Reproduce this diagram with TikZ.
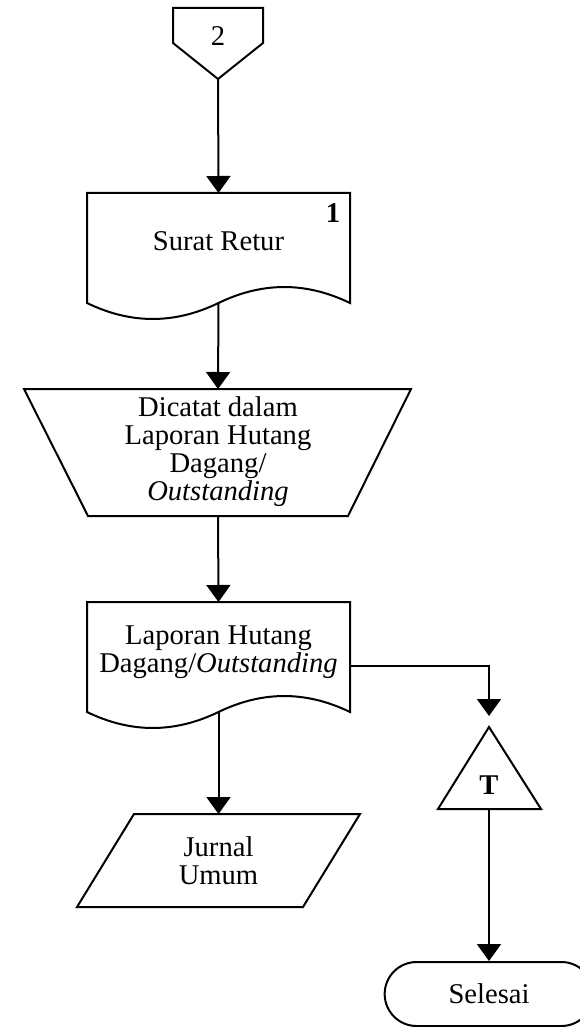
\documentclass[tikz,border=0pt]{standalone}
\usepackage{fontspec}
\setmainfont{Liberation Serif}
\usetikzlibrary{arrows.meta,calc,shapes.misc}

\tikzset{
  shp/.style={draw,line width=1pt,line join=miter},
  txt/.style={align=center,font=\fontsize{14.3}{14}\selectfont},
  arr/.style={line width=1pt,-{Triangle[width=12pt,length=8.5pt]}},
}

% document symbol, #1,#2 = top centre
\newcommand{\docshape}[2]{%
  \draw[shp] (#1-131.5,#2) -- (#1+131.5,#2) -- (#1+131.5,#2+110)
    .. controls (#1+87.5,#2+88.7) and (#1+44,#2+88.7) .. (#1,#2+110)
    .. controls (#1-44,#2+131.3) and (#1-87.5,#2+131.3) .. (#1-131.5,#2+110) -- cycle;}

\begin{document}
\begin{tikzpicture}[x=0.5pt,y=-0.5pt]
    \useasboundingbox (0,0) rectangle (579,1027);

    \coordinate (p2tip) at (218,79);
    \coordinate (srtop) at (218.5,193);
    \coordinate (srw) at (218.5,303);
    \coordinate (dctop) at (218,389);
    \coordinate (dcbot) at (218,516);
    \coordinate (lhtop) at (218.5,602);
    \coordinate (lhw) at (218.5,712);
    \coordinate (lhr) at (350,666);
    \coordinate (jutop) at (218.5,814);
    \coordinate (ttop) at (489,727);
    \coordinate (tbot) at (489,809);

    % off-page connector
    \draw[shp] (173,8) -- (263,8) -- (263,43) -- (p2tip) -- (173,43) -- cycle;
    \node (P2) [txt] at (218,36) {2};

    % surat retur
    \docshape{218.5}{193}
    \node (SR) [txt] at (218.5,241) {Surat Retur};
    \node (N1) [txt,font=\fontsize{14.3}{14}\selectfont\bfseries] at (333,213) {1};

    % manual operation
    \draw[shp] (24,389) -- (411,389) -- (348,516) -- (88,516) -- cycle;
    \node (DC) [txt] at (218,452) {Dicatat dalam\\Laporan Hutang\\Dagang/\\\textit{Outstanding}};

    % laporan hutang dagang
    \docshape{218.5}{602}
    \node (LH) [txt] at (218.5,652) {Laporan Hutang\\Dagang/\textit{Outstanding}};

    % jurnal umum
    \draw[shp] (134,814) -- (360,814) -- (303,907) -- (77,907) -- cycle;
    \node (JU) [txt] at (218.5,861) {Jurnal\\Umum};

    % off-line storage
    \draw[shp] (ttop) -- (541,809) -- (438,809) -- cycle;
    \node (T) [txt,font=\fontsize{14.3}{14}\selectfont\bfseries] at (489,785) {T};

    % terminator
    \node (END) [shp,txt,rounded rectangle,minimum width=111pt,minimum height=32pt] at (489,994) {Selesai};

    \draw[arr] (p2tip) -- (srtop);
    \draw[arr] (srw) -- (dctop);
    \draw[arr] (dcbot) -- (lhtop);
    \draw[arr] (lhw) -- (jutop);
    \draw[arr,shorten >=5.5pt] (lhr) -| (ttop);
    \draw[arr] (tbot) -- (END.north);

\end{tikzpicture}
\end{document}
